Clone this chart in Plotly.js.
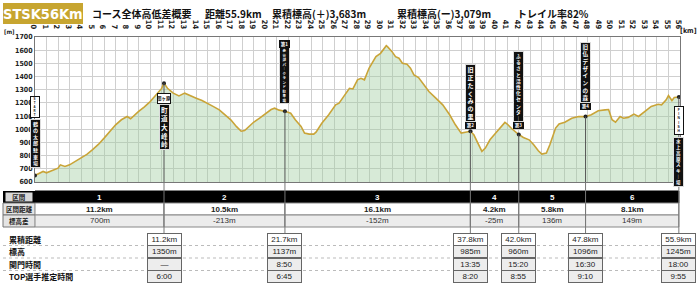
<!DOCTYPE html>
<html><head><meta charset="utf-8">
<script src="https://cdn.plot.ly/plotly-3.0.1.min.js"></script>
<style>body{margin:0;background:#fff}#chart{width:700px;height:285px}</style>
</head><body><div id="chart"></div>
<script>
// ---------- data ----------
const courseKm = [0,0.3,0.7,1.0,1.5,2.0,2.2,2.6,3.0,3.5,4.0,4.5,5.0,5.5,6.0,6.5,7.0,7.5,8.0,8.3,8.6,9.0,9.5,10.0,10.5,11.0,11.2,11.5,12.0,12.5,13.0,13.5,14.0,14.5,15.0,15.5,16.0,16.5,17.0,17.5,17.9,18.2,18.6,19.0,19.5,20.0,20.5,20.8,21.2,21.7,22.2,22.6,23.1,23.4,23.8,24.2,24.4,24.9,25.5,26.1,26.4,26.9,27.3,27.6,28.0,28.3,28.6,29.0,29.6,30.0,30.5,30.6,31.0,31.3,31.6,31.9,32.3,32.6,32.9,33.3,33.8,34.2,34.8,35.4,36.0,36.5,37.0,37.4,37.8,38.1,38.4,38.8,39.1,39.5,40.0,40.4,40.8,41.0,41.4,42.0,42.4,42.9,43.3,43.7,44.0,44.4,44.7,45.2,45.5,46.0,46.6,47.2,47.8,48.3,48.9,49.5,49.8,50.1,50.4,50.8,51.1,51.5,52.0,52.4,53.0,53.5,54.1,54.4,54.8,55.0,55.3,55.5,55.9];
const elevation = [650,665,680,670,690,705,730,718,730,755,782,810,845,885,933,985,1034,1072,1097,1080,1105,1135,1170,1210,1260,1310,1350,1311,1274,1253,1274,1253,1236,1218,1198,1172,1147,1110,1072,1020,985,990,1021,1055,1084,1120,1150,1160,1145,1137,1122,1072,1021,971,963,963,978,1046,1110,1185,1198,1261,1311,1306,1375,1387,1375,1463,1551,1576,1634,1627,1589,1551,1539,1501,1493,1463,1412,1392,1337,1286,1236,1185,1110,1034,971,978,985,958,908,832,857,920,971,1009,1052,1040,1004,960,938,920,883,837,812,820,883,1009,1040,1054,1084,1097,1096,1110,1140,1147,1150,1072,1054,1097,1084,1090,1115,1097,1140,1173,1190,1185,1223,1256,1218,1241,1245];

const markerKm = [0, 11.2, 21.7, 37.8, 42.0, 47.8, 55.9];
const markerElev = [650, 1350, 1137, 985, 960, 1096, 1245];

const stationKm = [11.2, 21.7, 37.8, 42.0, 47.8, 55.9];
const stationDist = ['11.2km','21.7km','37.8km','42.0km','47.8km','55.9km'];
const stationAlt = ['1350m','1137m','985m','960m','1096m','1245m'];
const stationCutoff = ['—','8:50','13:35','15:20','16:30','18:00'];
const stationTop = ['6:00','6:45','8:20','8:55','9:10','9:55'];
const rowLabels = ['累積距離','標高','関門時間','TOP選手推定時間'];

const segBounds = [0, 11.2, 21.7, 37.8, 42.0, 47.8, 55.9];
const segNames = ['1','2','3','4','5','6'];
const segDist = ['11.2km','10.5km','16.1km','4.2km','5.8km','8.1km'];
const segGain = ['700m','-213m','-152m','-25m','136m','149m'];
const tableHeads = ['区間','区間距離','標高差'];

const labelKm = [0, 11.2, 21.7, 37.8, 42.0, 47.8, 55.9];
const labelTag = ['START','関ヶ原','第1','第2','第3','第4','FINISH'];
const labelName = ['鶴の太郎駐車場','町道大峰峠','赤谷湖パークランド駐車場','旧正 たくみの里','ふるさと活性化センター','旧仏 デザインの森','水上高原スキー場'];

const titleBadge = 'STSK56Km';
const titleParts = ['コース全体高低差概要','距離55.9km','累積標高(＋)3,683m','累積標高(ー)3,079m','トレイル率82%'];

// ---------- layout helpers (pixel -> paper) ----------
const L=35, R=680, T=37, B=182, W=700, H=285;
const px = p => (p-L)/(R-L);
const py = p => (B-p)/(B-T);
const JP = '"Noto Sans CJK JP", "Noto Sans", sans-serif';
const NUM = '"Liberation Sans", Arial, sans-serif';
const NARROW = '"Liberation Sans Narrow", "DejaVu Sans Condensed", "Liberation Sans", sans-serif';

const shapes = [];
const ann = [];
function A(o){ ann.push(Object.assign({showarrow:false,xanchor:'center',yanchor:'middle'},o)); }

// title
shapes.push({type:'rect',xref:'paper',yref:'paper',x0:px(3),x1:px(83),y0:py(24),y1:py(3),fillcolor:'#c7a530',line:{width:0}});
A({xref:'paper',yref:'paper',x:px(43),y:py(14),text:'<b>'+titleBadge+'</b>',
  font:{family:NARROW,size:14.5,color:'#fff'}});
const titleX=[90,203,270,395,515];
titleParts.forEach((t,i)=>A({xref:'paper',yref:'paper',x:px(titleX[i]),xanchor:'left',y:py(14),
  text:'<b>'+t+'</b>',font:{family:JP,size:10,color:'#111'}}));

// axis unit labels
A({xref:'paper',yref:'paper',x:px(2),xanchor:'left',y:py(32),text:'<b>[m]</b>',font:{family:NARROW,size:6,color:'#222'}});
A({xref:'paper',yref:'paper',x:px(688),y:py(31),text:'<b>[km]</b>',font:{family:NARROW,size:7,color:'#222'}});

// upper table rows
const rowsPx=[[191,203],[203,215],[215,227]];
const leftFill=['#000','#e4e4e4','#e4e4e4'];
const cellFill=['#000','#ffffff','#ececec'];
rowsPx.forEach((r,ri)=>{
  shapes.push({type:'rect',xref:'paper',yref:'paper',x0:px(3),x1:px(35),y0:py(r[1]),y1:py(r[0]),
    fillcolor:leftFill[ri],line:{color:'#777',width:ri===0?0:1},layer:'above'});
  for(let i=0;i<segNames.length;i++){
    shapes.push({type:'rect',xref:'x',yref:'paper',x0:segBounds[i],x1:segBounds[i+1],y0:py(r[1]),y1:py(r[0]),
      fillcolor:cellFill[ri],line:{color:ri===0?'#000':'#888',width:1},layer:'above'});
  }
});
A({xref:'paper',yref:'paper',x:px(19),y:py(197),text:'<b>'+tableHeads[0]+'</b>',
  bgcolor:'#d8d8d8',width:26,height:8,borderpad:0,font:{family:JP,size:6.5,color:'#222'}});
A({xref:'paper',yref:'paper',x:px(19),y:py(209),text:'<b>'+tableHeads[1]+'</b>',font:{family:JP,size:6.5,color:'#222'}});
A({xref:'paper',yref:'paper',x:px(19),y:py(221),text:'<b>'+tableHeads[2]+'</b>',font:{family:JP,size:6.5,color:'#222'}});
for(let i=0;i<segNames.length;i++){
  const mid=(segBounds[i]+segBounds[i+1])/2;
  A({xref:'x',yref:'paper',x:mid,y:py(197),text:'<b>'+segNames[i]+'</b>',font:{family:NUM,size:8,color:'#fff'}});
  A({xref:'x',yref:'paper',x:mid,y:py(209),text:'<b>'+segDist[i]+'</b>',font:{family:NUM,size:8,color:'#222'}});
  A({xref:'x',yref:'paper',x:mid,y:py(221),text:segGain[i],font:{family:NUM,size:8,color:'#333'}});
}

// lower block
const lowRows=[[233,245.5],[245.5,258],[258,270.5],[270.5,283]];
lowRows.forEach((r,ri)=>{
  A({xref:'paper',yref:'paper',x:px(7),xanchor:'left',y:py((r[0]+r[1])/2),text:'<b>'+rowLabels[ri]+'</b>',
    font:{family:JP,size:8,color:'#111'}});
  if(ri<3) shapes.push({type:'line',xref:'paper',yref:'paper',x0:px(3),x1:1,y0:py(r[1]),y1:py(r[1]),line:{color:'#bbb',width:1,dash:'dot'}});
});

// station vertical lines
markerKm.forEach((k,i)=>{
  if(i===0) return;
  shapes.push({type:'line',xref:'x',yref:'y',x0:k,x1:k,y0:600,y1:markerElev[i],line:{color:'#555',width:1}});
  shapes.push({type:'line',xref:'x',yref:'paper',x0:k,x1:k,y0:0,y1:py(233),line:{color:'#777',width:1},layer:'above'});
});

// station boxes
const cols=[stationDist,stationAlt,stationCutoff,stationTop];
stationKm.forEach((k,i)=>{
  cols.forEach((c,ri)=>{
    const r=lowRows[ri];
    A({xref:'x',yref:'paper',x:k,y:py((r[0]+r[1])/2),text:c[i],
      bgcolor:ri===0?'#fff':'#ededed',bordercolor:'#666',borderwidth:1,borderpad:0,width:33,height:10.5,
      font:{family:NUM,size:8,color:'#222'}});
  });
});

// vertical label boxes
function vtext(s){return s.replace(/ー/g,'｜').split('').filter(c=>c!==' ').join('<br>');}
const tagPos=[[96,118],[93,103],[40,47],[122,128],[122,128],[103,109],[106,135]];
const namePos=[[119,168],[104,150],[47,104],[64,122],[51,122],[42,103],[137,187]];
labelKm.forEach((k,i)=>{
  const n=namePos[i], t=tagPos[i];
  const nChars=labelName[i].replace(/ /g,'').length;
  const fs=Math.min(7,(n[1]-n[0]-3)/nChars/1.3);
  A({xref:'x',yref:'paper',x:k,y:py((n[0]+n[1])/2),text:'<b>'+vtext(labelName[i])+'</b>',
    bgcolor:'#111',bordercolor:'#ddd',borderwidth:1,borderpad:0,width:9,height:n[1]-n[0]-2,
    font:{family:JP,size:fs,color:'#fff'}});
  const isVert = labelTag[i]==='START'||labelTag[i]==='FINISH';
  if(isVert){
    const tc=labelTag[i].length;
    A({xref:'x',yref:'paper',x:k,y:py((t[0]+t[1])/2),text:'<b>'+vtext(labelTag[i])+'</b>',
      bgcolor:'#fff',bordercolor:'#111',borderwidth:1,borderpad:0,width:8,height:t[1]-t[0]-2,
      font:{family:NUM,size:Math.min(6,(t[1]-t[0]-3)/tc/1.3),color:'#111'}});
  } else {
    A({xref:'x',yref:'paper',x:k,y:py((t[0]+t[1])/2),text:'<b>'+labelTag[i]+'</b>',
      bgcolor:i===1?'#fff':'#111',bordercolor:'#111',borderwidth:1,borderpad:0,width:i===1?12:9,height:t[1]-t[0]-1,
      font:{family:JP,size:4.5,color:i===1?'#111':'#fff'}});
  }
});

const data=[
  {x:courseKm,y:elevation,type:'scatter',mode:'lines',line:{color:'#c9a438',width:1.6},
   fill:'tozeroy',fillcolor:'rgba(160,205,160,0.42)',hoverinfo:'skip'},
  {x:markerKm,y:markerElev,type:'scatter',mode:'markers',marker:{color:'#222',size:4},hoverinfo:'skip'}
];

const layout={
  width:W,height:H,margin:{l:L,r:W-R,t:T,b:H-B},paper_bgcolor:'#fff',plot_bgcolor:'#fff',showlegend:false,
  xaxis:{range:[0,56],side:'top',dtick:1,tick0:0,showgrid:true,gridcolor:'#cfcfcf',gridwidth:1,zeroline:false,
    showline:true,mirror:true,linecolor:'#777',linewidth:1,ticks:'outside',ticklen:0,tickcolor:'rgba(0,0,0,0)',
    automargin:false,tickfont:{family:NARROW,size:7.5,color:'#222',weight:'bold'}},
  yaxis:{range:[600,1700],dtick:100,tick0:600,showgrid:true,gridcolor:'#cfcfcf',gridwidth:1,zeroline:false,
    showline:true,mirror:true,linecolor:'#777',linewidth:1,ticks:'outside',ticklen:0,tickcolor:'rgba(0,0,0,0)',
    automargin:false,tickfont:{family:NARROW,size:7,color:'#222',weight:'bold'}},
  shapes:shapes,annotations:ann
};
Plotly.newPlot('chart',data,layout,{displayModeBar:false,staticPlot:true});
</script></body></html>
